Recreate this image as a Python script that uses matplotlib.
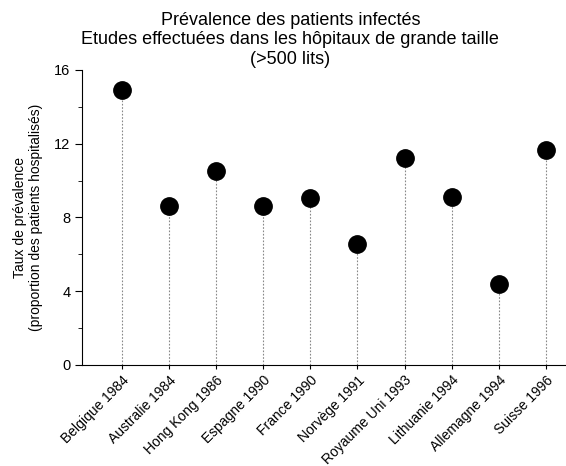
import numpy as np
import matplotlib
matplotlib.use("Agg")
import matplotlib.pyplot as plt
from matplotlib.ticker import MultipleLocator

plt.rcParams['font.family'] = ['Liberation Sans', 'DejaVu Sans']

# data
etudes = ["Belgique 1984", "Australie 1984", "Hong Kong 1986", "Espagne 1990",
          "France 1990", "Norvège 1991", "Royaume Uni 1993", "Lithuanie 1994",
          "Allemagne 1994", "Suisse 1996"]
prevalence = [14.9, 8.6, 10.5, 8.6, 9.05, 6.55, 11.2, 9.1, 4.4, 11.65]

fig = plt.figure(figsize=(5.66, 4.66), dpi=100)
ax = fig.add_axes([0.145, 0.217, 0.855, 0.633])

x = np.arange(len(etudes))
ax.vlines(x, 0, prevalence, colors="#888888", linestyles=(0, (1.5, 1.5)), linewidth=0.8)
ax.plot(x, prevalence, "o", color="black", markersize=12.5)

ax.set_xlim(-0.85, 9.43)
ax.set_ylim(0, 16)
ax.yaxis.set_major_locator(MultipleLocator(4))
ax.yaxis.set_minor_locator(MultipleLocator(2))
ax.tick_params(axis="y", which="major", length=5, labelsize=10.5)
ax.tick_params(axis="y", which="minor", length=3)
ax.set_xticks(x)
ax.set_xticklabels(etudes, rotation=45, ha="right", rotation_mode="anchor", fontsize=10)
ax.tick_params(axis="x", length=3, pad=3)

for s in ["top", "right"]:
    ax.spines[s].set_visible(False)

ax.set_ylabel("Taux de prévalence\n(proportion des patients hospitalisés)", fontsize=10, labelpad=8)

fig.text(0.513, 0.975, "Prévalence des patients infectés\nEtudes effectuées dans les hôpitaux de grande taille\n(>500 lits)",
         ha="center", va="top", fontsize=13, linespacing=1.2)

fig.savefig("out.png", dpi=100)
